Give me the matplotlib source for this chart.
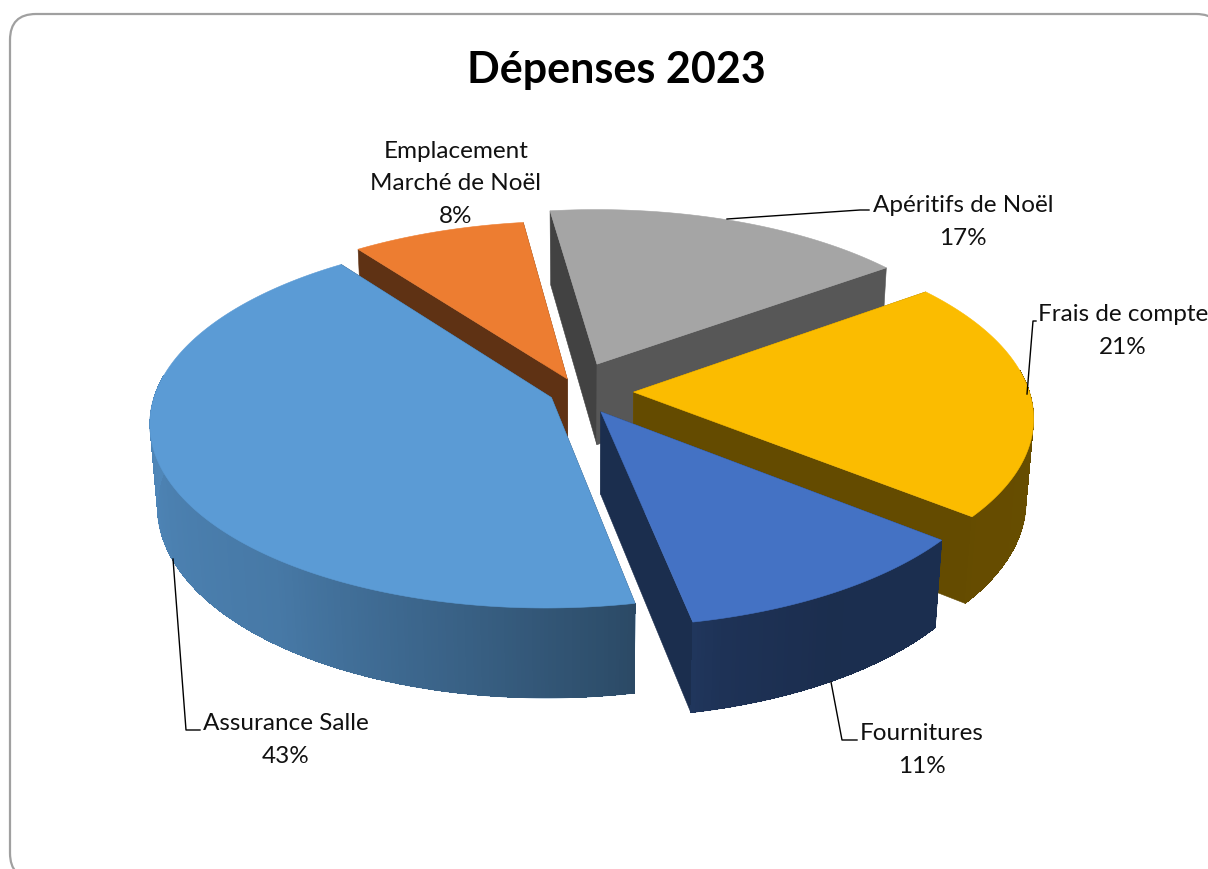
import numpy as np
import matplotlib
matplotlib.use("Agg")
import matplotlib.pyplot as plt
from matplotlib.collections import PolyCollection
from matplotlib.colors import to_rgb
from matplotlib.patches import FancyBboxPatch, Polygon

# data, in Excel's series order (clockwise)
categories = ["Assurance Salle", "Emplacement\nMarché de Noël", "Apéritifs de Noël", "Frais de compte", "Fournitures"]
shares = [43, 8, 17, 21, 11]

colors = ["#5B9BD5", "#ED7D31", "#A5A5A5", "#FBBC00", "#4472C4"]
# how far each slice is pulled out, in disc units (u, v)
pull = [(-0.097, -0.047), (-0.058, 0.056), (0.018, 0.14), (0.11, -0.017), (0.027, -0.124)]
draw_order = [2, 1, 3, 4, 0]
first_angle = 168.7

# label layout: text centre, then leader line
label_xy = [(286, 740), (456, 184), (963, 222), (1123, 331), (922, 750)]
leaders = [
    [(173, 560), (186, 731), (200, 731)],
    None,
    [(727, 220), (860, 211), (869, 211)],
    [(1027, 395), (1033, 322), (1036, 322)],
    [(831, 683), (842, 741), (857, 741)],
]

# perspective of the disc
CX, CY = 590, 390
A, B = 395, 180.7
P, Q = 0.13, 0.017
DEPTH = 83


def project(u, v, z=0.0):
    h = 1 + P * v + Q * z
    return CX + A * u / h, CY - B * v / h + DEPTH * z / h


def wall_shade(theta):
    return np.interp(theta, [100, 150, 165, 172, 190, 218, 270, 360],
                     [0.41, 0.40, 0.44, 0.50, 0.62, 0.78, 0.87, 0.87])


fig = plt.figure(figsize=(12.08, 8.70), dpi=100)
ax = fig.add_axes([0, 0, 1, 1])
ax.set_xlim(0, 1208)
ax.set_ylim(870, 0)
ax.axis("off")

ax.add_patch(FancyBboxPatch((10, 15), 1212, 865, boxstyle="round,pad=0,rounding_size=26",
                            fc="white", ec="#a0a0a0", lw=1.6, zorder=0))

edges = first_angle + np.cumsum([0] + shares) * 3.6
z = 1
for i in draw_order:
    t0, t1 = edges[i], edges[i + 1]
    base = np.array(to_rgb(colors[i]))
    pu, pv = pull[i]
    th = np.linspace(t0, t1, max(int(t1 - t0) * 2, 8))
    rim_u = pu + np.sin(np.radians(th))
    rim_v = pv + np.cos(np.radians(th))

    # straight walls first, the rim wall and the top paint over what is hidden
    for t, idx in ((t0, 0), (t1, -1)):
        s = 0.53 if 30 < t % 360 < 90 else 0.40
        quad = [project(pu, pv), project(rim_u[idx], rim_v[idx]),
                project(rim_u[idx], rim_v[idx], 1), project(pu, pv, 1)]
        ax.add_patch(Polygon(quad, fc=base * s, ec=base * s, lw=0.4, zorder=z))
        z += 1

    # rim wall, only the part turned to the viewer
    front = np.cos(np.radians(th)) < 0.13
    if front.sum() > 1:
        fu, fv, fth = rim_u[front], rim_v[front], th[front]
        outline = [project(a, b) for a, b in zip(fu, fv)] + [project(a, b, 1) for a, b in zip(fu[::-1], fv[::-1])]
        mean_fill = base * wall_shade(np.median(fth) % 360)
        ax.add_patch(Polygon(outline, fc=mean_fill, ec=mean_fill, lw=0.5, zorder=z))
        z += 1
        quads, fills = [], []
        for k in range(len(fth) - 1):
            quads.append([project(fu[k], fv[k]), project(fu[k + 1], fv[k + 1]),
                          project(fu[k + 1], fv[k + 1], 1), project(fu[k], fv[k], 1)])
            fills.append(base * wall_shade((fth[k] + fth[k + 1]) / 2 % 360))
        ax.add_collection(PolyCollection(quads, facecolors=fills, edgecolors="none", antialiaseds=False, zorder=z))
        z += 1

    top = [project(pu, pv)] + [project(a, b) for a, b in zip(rim_u, rim_v)]
    ax.add_patch(Polygon(top, fc=base, ec=base, lw=0.4, zorder=z))
    z += 1

for name, share, xy, leader in zip(categories, shares, label_xy, leaders):
    ax.text(xy[0], xy[1], f"{name}\n{share}%", ha="center", va="center", family="Lato",
            fontsize=17.5, color="#111111", linespacing=1.65, zorder=z, clip_on=True)
    if leader:
        ax.plot(*zip(*leader), color="black", lw=1.0, zorder=z)

ax.text(616, 70, "Dépenses 2023", ha="center", va="center", family="Lato", weight="bold",
        fontsize=31, color="black", zorder=z)

fig.savefig("out.png", dpi=100)
